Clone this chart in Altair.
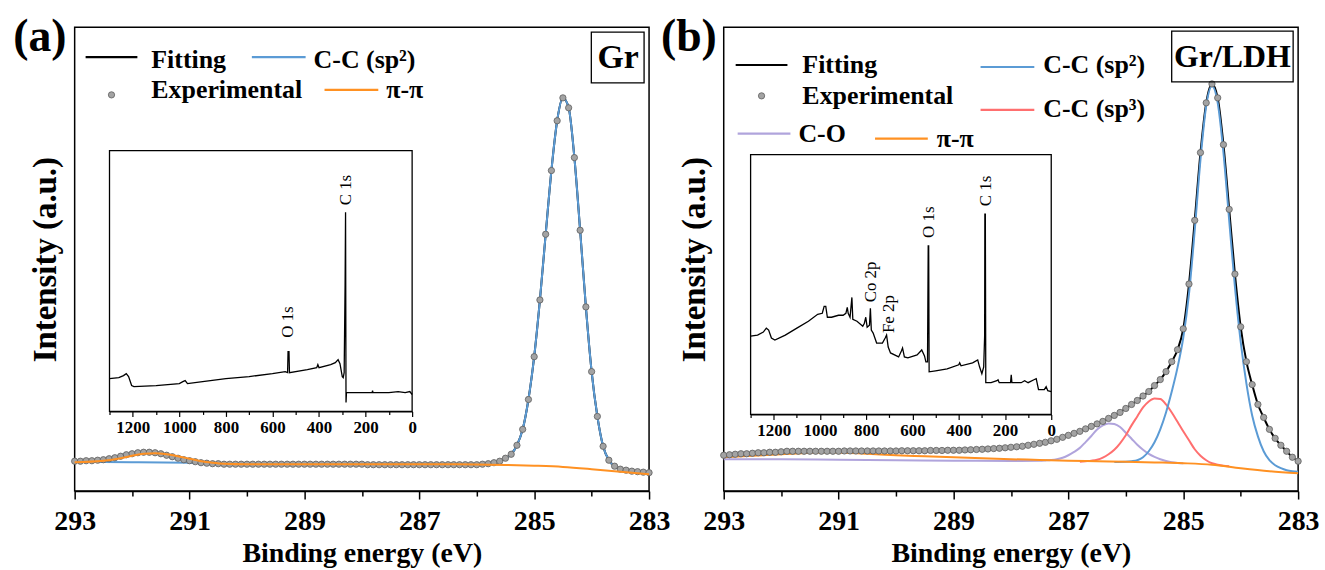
import altair as alt
import pandas as pd

FONT = "Liberation Serif, Times New Roman, Times, serif"

# ---------------- energy grid of the experimental points (0.1 eV) ----------------
E_grid = [round(293.0 - 0.1 * i, 1) for i in range(101)]

# ---------------- panel (a): Gr ----------------
a_exp = ([30, 30, 30.5, 30.5, 31, 31.5, 32.5, 33.5, 35, 36.5, 37.5, 38.5, 39, 39, 38.5, 37.5,
          36, 34.5, 33, 31.5, 30.5, 29.5, 28.5, 28, 27.5, 27.5]
         + [27] * 25 + [26.5] * 20
         + [27, 27.5, 28.5, 30, 33, 37, 46, 62, 92, 135, 192, 258, 322, 372, 395, 385, 335,
            262, 185, 120, 75, 45, 31, 25, 22, 21, 20, 19.5, 19, 18.5])

a_sp2_E = [293.0, 292.0, 291.0, 290.5, 290.0, 288.0, 286.0] + E_grid[71:]
a_sp2_v = [29.5, 29, 28.5, 27.5, 27, 27, 26.5] + a_exp[71:]

a_pi_E = [293, 292.5, 292.2, 292.0, 291.8, 291.6, 291.4, 291.2, 291.0, 290.8, 290.6, 290.4,
          290, 289, 288, 287, 286, 285.5, 285, 284.5, 284, 283.5, 283]
a_pi_v = [29, 30.5, 33, 35.5, 37.5, 38, 37, 35, 32.5, 30, 28.5, 27.5, 27, 27, 27, 27, 26.8,
          26.3, 25.5, 24.3, 22, 19.3, 17]

# survey inset (a)
a_sv_E = [1300, 1260, 1240, 1228, 1218, 1205, 1195, 1100, 1000, 985, 975, 965, 900, 800, 700,
          600, 545, 535, 533, 529, 527, 450, 410, 405, 400, 350, 330, 318, 310, 300, 296, 292,
          288, 286, 284, 282, 250, 200, 172, 170, 168, 100, 60, 30, 10, 0]
a_sv_v = [33, 34, 36, 38, 35, 26, 25, 26, 28, 30, 31, 28, 30, 33, 35, 38, 40, 39, 60, 60, 39,
          42, 44, 47, 44, 47, 49, 52, 48, 35, 34, 39, 127, 200, 9, 19, 19, 19, 19, 21, 19, 19,
          20, 19, 20, 17]
a_peaks = ["O 1s", "C 1s"]
a_peak_E = [531, 285]
a_peak_v = [74, 207]

# ---------------- panel (b): Gr/LDH ----------------
b_exp = ([36, 36.5, 37, 37.5, 37.5, 38, 38.5, 38.5, 39, 39, 39.5]
         + [40] * 10 + [40.3] * 10
         + [40.5, 40.5, 40.5, 40.5, 40.5, 40.8, 40.8, 40.8, 41, 41, 41, 41.3, 41.5, 41.8, 42,
            42.3, 42.7, 43, 43.5, 44]
         + [44.5, 45, 46, 47, 48, 49, 50.5, 52, 54, 56, 58, 60, 62.5, 65, 67.5, 70, 73, 76, 79, 83]
         + [87, 91, 95.5, 100, 106, 112, 120, 130, 142, 163, 208, 272, 340, 390, 409, 395, 348,
            283, 218, 165, 130, 107, 87, 74, 62, 53, 46, 40, 34, 30])

b_sp2_E = [286.2, 286.0, 285.9, 285.8, 285.7, 285.6, 285.5, 285.4, 285.3, 285.2, 285.1, 285.0,
           284.9, 284.8, 284.7, 284.6, 284.5, 284.4, 284.3, 284.2, 284.1, 284.0, 283.9, 283.8,
           283.7, 283.6, 283.5, 283.4, 283.3, 283.2, 283.1, 283.0]
b_sp2_v = [29.3, 29.5, 30, 31, 34, 40, 49, 62, 79, 100, 124, 154, 198, 262, 333, 387, 407, 390,
           340, 272, 205, 150, 108, 76, 55, 40, 31, 26, 23, 21, 20, 19.5]

b_sp3_E = [286.8, 286.7, 286.6, 286.5, 286.4, 286.3, 286.2, 286.1, 286.0, 285.9, 285.8, 285.7,
           285.6, 285.5, 285.4, 285.3, 285.2, 285.1, 285.0, 284.9, 284.8, 284.7, 284.6, 284.5,
           284.4, 284.3, 284.2]
b_sp3_v = [29.5, 30, 30.5, 31.4, 33.5, 37, 41.5, 48, 56, 66, 75, 84, 90, 93, 92.6, 87, 79, 69.6,
           60, 51, 42, 35.5, 31, 28, 26.5, 25.5, 25]

b_co_E = [293, 292, 291, 290, 289, 288, 287.5, 287.4, 287.3, 287.2, 287.1, 287.0, 286.9, 286.8,
          286.7, 286.6, 286.5, 286.4, 286.3, 286.2, 286.1, 286.0, 285.9, 285.8, 285.7, 285.6,
          285.5, 285.4, 285.3, 285.2, 285.1, 285.0]
b_co_v = [32, 32, 31.5, 31, 30.5, 30.3, 30.5, 30.8, 31.2, 32, 33.5, 36, 39.3, 43.4, 49.2, 55.3,
          61.8, 66, 68, 67.3, 64.3, 58.6, 52.6, 46.5, 41.5, 37.4, 34.4, 32, 30.3, 29, 28.3, 28]

b_pi_E = [293, 292.5, 292, 291.5, 291.2, 291, 290.5, 290, 289.5, 289, 288.5, 288, 287.5, 287,
          286.5, 286, 285.5, 285, 284.5, 284, 283.5, 283]
b_pi_v = [34, 35.5, 37, 38.5, 39, 38.7, 37.5, 36, 35, 34, 33, 32, 31.3, 30.5, 30, 29.5, 28.8, 28,
          26.5, 23, 20, 18]

# survey inset (b)
b_sv_E = [1300, 1270, 1245, 1232, 1222, 1210, 1195, 1150, 1100, 1050, 1010, 990, 982, 975, 968,
          950, 920, 900, 888, 882, 878, 870, 862, 858, 840, 815, 808, 802, 796, 786, 782, 778,
          770, 755, 730, 718, 712, 705, 695, 660, 648, 643, 635, 620, 580, 560, 548, 542, 535,
          532, 530, 528, 500, 450, 400, 396, 390, 340, 318, 310, 300, 292, 288, 287, 285, 283,
          260, 235, 230, 225, 176, 173, 170, 130, 115, 100, 75, 65, 55, 30, 22, 15, 0]
b_sv_v = [79, 80, 83, 87, 85, 77, 75, 80, 87, 94, 101, 102, 109, 109, 98, 98, 100, 100, 102,
          108, 102, 98, 118, 96, 94, 89, 92, 98, 88, 90, 107, 85, 82, 72, 72, 77, 80, 68, 62, 58,
          64, 67, 58, 57, 60, 65, 59, 53, 53, 170, 170, 43, 44, 46, 50, 52, 49, 52, 55, 48, 41,
          48, 79, 202, 202, 32, 32, 34, 35, 32, 32, 40, 32, 32, 34, 32, 35, 36, 25, 25, 28, 24, 23]
b_peaks = ["C 1s", "O 1s", "Co 2p", "Fe 2p"]
b_peak_E = [284, 529, 779, 702]
b_peak_v = [210, 178, 113, 82]

BLUE, ORANGE, RED, PURPLE = "#5b9bd5", "#ff9122", "#ff6f6f", "#b0a4dc"
one = pd.DataFrame({"k": [0]})


def xy_main():
    x = alt.X("E:Q",
              scale=alt.Scale(domain=[283, 293], reverse=True, nice=False, zero=False),
              axis=alt.Axis(values=list(range(283, 294)), format="d",
                            labelExpr="datum.value % 2 == 1 ? datum.label : ''",
                            tickSize={"condition": {"test": "datum.value % 2 == 1", "value": 8}, "value": 5},
                            tickWidth=1.5, tickColor="black", domainColor="black", domainWidth=1.5,
                            labelFont=FONT, labelFontWeight="bold", labelFontSize=28, labelColor="black",
                            labelPadding=9, labelFlush=False, grid=False,
                            title="Binding energy (eV)", titleFont=FONT, titleFontWeight="bold",
                            titleFontSize=28, titleColor="black", titlePadding=4))
    y = alt.Y("v:Q", scale=alt.Scale(domain=[0, 466], nice=False, zero=False),
              axis=alt.Axis(labels=False, ticks=False, domain=False, grid=False,
                            title="Intensity (a.u.)", titleFont=FONT, titleFontWeight="bold",
                            titleFontSize=33, titleColor="black", titlePadding=12))
    return x, y


def curve(E, v, color, width=2.0):
    x, y = xy_main()
    df = pd.DataFrame({"E": E, "v": v})
    return alt.Chart(df).mark_line(color=color, strokeWidth=width, interpolate="monotone").encode(x=x, y=y)


def dots(E, v):
    x, y = xy_main()
    df = pd.DataFrame({"E": E, "v": v})
    return alt.Chart(df).mark_point(filled=True, shape="circle", size=40, fill="#a3a3a3",
                                    stroke="#5e5e5e", strokeWidth=0.8, opacity=1).encode(x=x, y=y)


def text(t, x, y, size, weight="bold", align="left", baseline="alphabetic"):
    return alt.Chart(one).mark_text(text=t, font=FONT, fontSize=size, fontWeight=weight,
                                    align=align, baseline=baseline, color="black").encode(
        x=alt.value(x), y=alt.value(y))


def seg(x1, x2, y, color):
    return alt.Chart(one).mark_rule(color=color, strokeWidth=2.2).encode(
        x=alt.value(x1), x2=alt.value(x2), y=alt.value(y))


def legend_dot(x, y):
    return alt.Chart(one).mark_point(filled=True, shape="circle", size=40, fill="#a3a3a3",
                                     stroke="#5e5e5e", strokeWidth=0.8, opacity=1).encode(
        x=alt.value(x), y=alt.value(y))


def box(x1, x2, y1, y2):
    return alt.Chart(one).mark_rect(fill="transparent", stroke="black", strokeWidth=1.3).encode(
        x=alt.value(x1), x2=alt.value(x2), y=alt.value(y1), y2=alt.value(y2))


def inset(E, v, names, pE, pv, xr, yr, offset):
    xs = alt.Scale(domain=[0, 1300], range=xr, nice=False, zero=False)
    ys = alt.Scale(domain=[0, 262], range=yr, nice=False, zero=False)
    ax = alt.Axis(orient="bottom", offset=offset, values=list(range(0, 1301, 100)), format="d",
                  labelExpr="datum.value % 200 == 0 ? datum.label : ''",
                  tickSize={"condition": {"test": "datum.value % 200 == 0", "value": 5}, "value": 3},
                  tickColor="black", tickWidth=1.2, domainColor="black", domainWidth=1.3,
                  labelFont=FONT, labelFontWeight="bold", labelFontSize=17, labelColor="black",
                  labelPadding=3, labelFlush=False, grid=False, title=None)
    X = alt.X("E:Q", scale=xs, axis=ax)
    Y = alt.Y("v:Q", scale=ys, axis=None)
    frame = alt.Chart(one).mark_rect(fill="transparent", stroke="black", strokeWidth=1.3).encode(
        x=alt.datum(0, type="quantitative", scale=xs, axis=ax),
        x2=alt.datum(1300), y=alt.datum(0, type="quantitative", scale=ys, axis=None), y2=alt.datum(262))
    line = alt.Chart(pd.DataFrame({"E": E, "v": v})).mark_line(color="black", strokeWidth=1.3).encode(x=X, y=Y)
    lab = alt.Chart(pd.DataFrame({"E": pE, "v": pv, "t": names})).mark_text(
        font=FONT, fontSize=17, angle=270, align="left", baseline="middle", color="black").encode(
        x=X, y=Y, text="t:N")
    return alt.layer(frame, line, lab)


# ---------------- panel (a) ----------------
main_a = alt.layer(
    curve(E_grid, a_exp, "black"),
    curve(a_sp2_E, a_sp2_v, BLUE),
    dots(E_grid, a_exp),
    curve(a_pi_E, a_pi_v, ORANGE),
    seg(11, 63, 30, "black"), text("Fitting", 77, 41, 26),
    seg(178, 232, 30, BLUE), text("C-C (sp²)", 240, 41, 26),
    legend_dot(37, 68), text("Experimental", 77, 71, 26),
    seg(251, 305, 63, ORANGE), text("π-π", 313, 71, 26),
    box(519, 572, 5, 56), text("Gr", 546, 31, 34, align="center", baseline="middle"),
    text("(a)", -35, 10, 46, align="center", baseline="middle"),
)
ins_a = inset(a_sv_E, a_sv_v, a_peaks, a_peak_E, a_peak_v, [339, 35], [386, 124], -80)
panel_a = alt.layer(main_a, ins_a).resolve_scale(x="independent", y="independent").properties(
    width=577, height=466)

# ---------------- panel (b) ----------------
main_b = alt.layer(
    curve(E_grid, b_exp, "black"),
    curve(b_co_E, b_co_v, PURPLE),
    curve(b_sp3_E, b_sp3_v, RED),
    curve(b_sp2_E, b_sp2_v, BLUE),
    curve(b_pi_E, b_pi_v, ORANGE),
    dots(E_grid, b_exp),
    seg(12, 64, 38, "black"), text("Fitting", 79, 46, 26),
    legend_dot(38, 69), text("Experimental", 79, 77, 26),
    seg(14, 67, 107, PURPLE), text("C-O", 75, 115, 26),
    seg(152, 205, 112, ORANGE), text("π-π", 214, 120, 26),
    seg(258, 312, 40, BLUE), text("C-C (sp²)", 321, 46, 26),
    seg(258, 312, 83, RED), text("C-C (sp³)", 321, 90, 26),
    box(450, 572, 4, 55), text("Gr/LDH", 511, 30, 32, align="center", baseline="middle"),
    text("(b)", -35, 10, 46, align="center", baseline="middle"),
)
ins_b = inset(b_sv_E, b_sv_v, b_peaks, b_peak_E, b_peak_v, [329, 27], [389, 128], -77)
panel_b = alt.layer(main_b, ins_b).resolve_scale(x="independent", y="independent").properties(
    width=577, height=466)

chart = alt.hconcat(panel_a, panel_b, spacing=75, bounds="flush").properties(
    padding={"left": 12, "top": 12, "right": 5, "bottom": 5}
).configure(
    background="white", font=FONT
).configure_axis(
    titleFont=FONT, labelFont=FONT, titleFontWeight="bold", labelFontWeight="bold"
).configure_view(stroke="black", strokeWidth=1.5)

chart.save("out.html", embed_options={"renderer": "svg", "actions": False})
